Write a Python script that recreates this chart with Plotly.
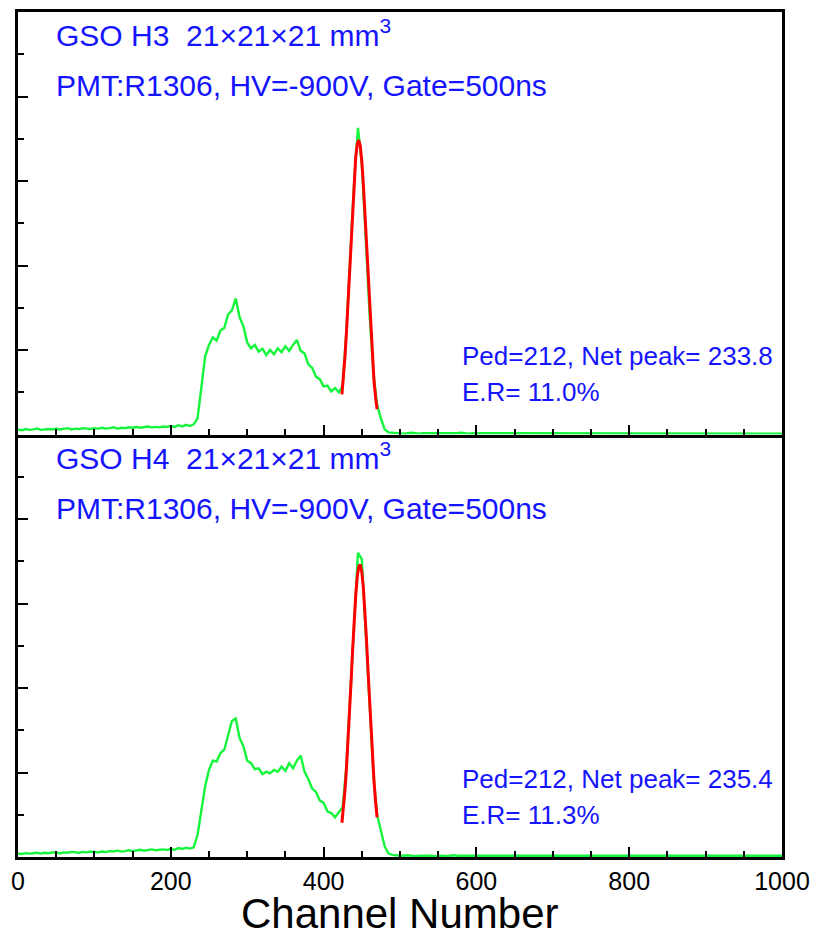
import numpy as np
import plotly.graph_objects as go

# ---- data -------------------------------------------------------------
channels = list(range(0, 1001, 5))

counts_h3 = [
    12, 10, 13, 11, 12, 14, 11, 12, 13, 12,
    14, 12, 13, 15, 12, 14, 13, 15, 14, 13,
    15, 14, 16, 14, 15, 17, 14, 16, 15, 17,
    16, 18, 16, 17, 19, 17, 18, 17, 19, 18,
    20, 18, 22, 19, 23, 20, 24, 38, 105, 185,
    212, 230, 222, 246, 252, 284, 294, 322, 278, 256,
    218, 204, 212, 196, 203, 188, 200, 190, 204, 195,
    209, 198, 212, 224, 198, 192, 166, 158, 137, 131,
    114, 116, 102, 110, 100, 114, 250, 420, 600, 726,
    640, 470, 290, 150, 70, 38, 12, 5, 4, 3,
    3, 2, 3, 4, 3, 2, 3, 3, 2, 3,
    3, 2, 3, 3, 2, 3, 4, 3, 2, 3,
    2, 3, 3, 2, 3, 2, 3, 3, 2, 3,
    3, 2, 2, 3, 2, 3, 2, 2, 3, 2,
    2, 3, 2, 2, 3, 2, 2, 3, 2, 2,
    2, 2, 3, 2, 2, 2, 3, 2, 2, 2,
    2, 3, 2, 2, 2, 3, 2, 2, 2, 3,
    2, 2, 2, 3, 2, 2, 2, 2, 3, 2,
    2, 2, 3, 2, 2, 2, 2, 3, 2, 2,
    2, 2, 2, 2, 3, 2, 2, 2, 2, 2,
    2,
]

counts_h4 = [
    8, 7, 9, 8, 9, 10, 8, 10, 9, 11,
    10, 9, 11, 10, 12, 11, 10, 12, 11, 13,
    12, 11, 13, 12, 14, 13, 15, 13, 14, 16,
    14, 15, 17, 15, 16, 18, 16, 17, 18, 17,
    19, 17, 21, 19, 22, 20, 23, 52, 112, 168,
    206, 228, 226, 246, 254, 290, 322, 328, 282, 262,
    228, 222, 208, 210, 196, 202, 198, 206, 202, 214,
    204, 222, 210, 228, 240, 202, 184, 162, 154, 134,
    128, 108, 104, 94, 106, 118, 220, 390, 570, 720,
    705, 545, 360, 200, 100, 65, 25, 8, 5, 4,
    3, 3, 4, 3, 2, 3, 3, 4, 3, 2,
    3, 3, 2, 3, 4, 3, 3, 2, 3, 3,
    2, 3, 3, 2, 3, 3, 2, 3, 2, 3,
    3, 2, 3, 2, 3, 2, 3, 3, 2, 3,
    2, 3, 2, 3, 2, 2, 3, 2, 3, 2,
    2, 3, 2, 2, 3, 2, 3, 2, 2, 3,
    2, 2, 3, 2, 2, 3, 2, 2, 3, 2,
    2, 3, 2, 2, 2, 3, 2, 2, 2, 3,
    2, 2, 3, 2, 2, 2, 3, 2, 2, 2,
    3, 2, 2, 2, 3, 2, 2, 2, 2, 3,
    3,
]

# Gaussian photopeak fit results per crystal
detectors = ["GSO H3", "GSO H4"]
pedestal = [212, 212]
net_peak = [233.8, 235.4]
energy_res = [11.0, 11.3]          # FWHM / net peak, in %
fit_amplitude = [697, 693]
fit_start = [424, 424]
fit_end = [470, 471]

PMT_TEXT = "PMT:R1306, HV=-900V, Gate=500ns"
X_TITLE = "Channel Number"

BLUE = "#1414FF"
GREEN = "#14F53C"
RED = "#FF0000"
FONT = "Liberation Sans, Arial, sans-serif"


def fit_curve(i):
    mean = pedestal[i] + net_peak[i]
    sigma = energy_res[i] / 100.0 * net_peak[i] / 2.3548
    x = np.arange(fit_start[i], fit_end[i] + 0.01, 2.0)
    y = fit_amplitude[i] * np.exp(-((x - mean) ** 2) / (2 * sigma ** 2))
    return x, y


fig = go.Figure()

# panel 0 on top (x2/y2), panel 1 at the bottom (x/y)
panel_axes = [("x2", "y2"), ("x", "y")]
spectra = [counts_h3, counts_h4]

for i, (xa, ya) in enumerate(panel_axes):
    fig.add_trace(go.Scatter(x=channels, y=spectra[i], mode="lines",
                             line=dict(color=GREEN, width=2.4),
                             xaxis=xa, yaxis=ya, showlegend=False,
                             hoverinfo="skip"))
    fx, fy = fit_curve(i)
    fig.add_trace(go.Scatter(x=fx, y=fy, mode="lines",
                             line=dict(color=RED, width=3),
                             xaxis=xa, yaxis=ya, showlegend=False,
                             hoverinfo="skip"))

    texts = [
        (47, 950, f"{detectors[i]}  21×21×21 mm<sup>3</sup>", 30),
        (47, 826, PMT_TEXT, 30),
        (579, 185, f"Ped={pedestal[i]}, Net peak= {net_peak[i]:.1f}", 26),
        (579, 100, f"E.R= {energy_res[i]:.1f}%", 26),
    ]
    for tx, ty, t, fs in texts:
        fig.add_annotation(x=tx, y=ty, xref=xa, yref=ya, text=t,
                           showarrow=False, xanchor="left", yanchor="middle",
                           font=dict(family=FONT, size=fs, color=BLUE))

# x-axis title placed below the tick labels
fig.add_annotation(x=0.5, y=-0.0955, xref="paper", yref="paper", text=X_TITLE,
                   showarrow=False, xanchor="center", yanchor="bottom",
                   borderpad=0,
                   font=dict(family=FONT, size=42, color="black"))

common_x = dict(range=[0, 1000], showline=True, linecolor="black", linewidth=3,
                ticks="inside", ticklen=10, tickwidth=2, automargin=False,
                tickcolor="black", tick0=0, dtick=200, showgrid=False,
                zeroline=False,
                minor=dict(dtick=50, ticks="inside", ticklen=6, tickwidth=2,
                           tickcolor="black", showgrid=False))
common_y = dict(range=[0, 1000], showline=True, linecolor="black", linewidth=3,
                mirror=True, ticks="inside", ticklen=10, tickwidth=2,
                tickcolor="black", tick0=0, dtick=200, showgrid=False,
                zeroline=False, showticklabels=False, automargin=False,
                minor=dict(dtick=100, ticks="inside", ticklen=6, tickwidth=2,
                           tickcolor="black", showgrid=False))

fig.update_layout(
    width=813, height=939,
    margin=dict(l=18, r=31, t=12, b=82),
    paper_bgcolor="white", plot_bgcolor="white",
    font=dict(family=FONT, color="black"),
    xaxis=dict(**common_x, anchor="y", domain=[0, 1], mirror=False,
               tickfont=dict(size=25, color="black")),
    yaxis=dict(**common_y, domain=[0, 0.5], anchor="x"),
    xaxis2=dict(**common_x, anchor="y2", domain=[0, 1], mirror=True,
                showticklabels=False),
    yaxis2=dict(**common_y, domain=[0.5, 1], anchor="x2"),
)

fig.write_html("out.html")
